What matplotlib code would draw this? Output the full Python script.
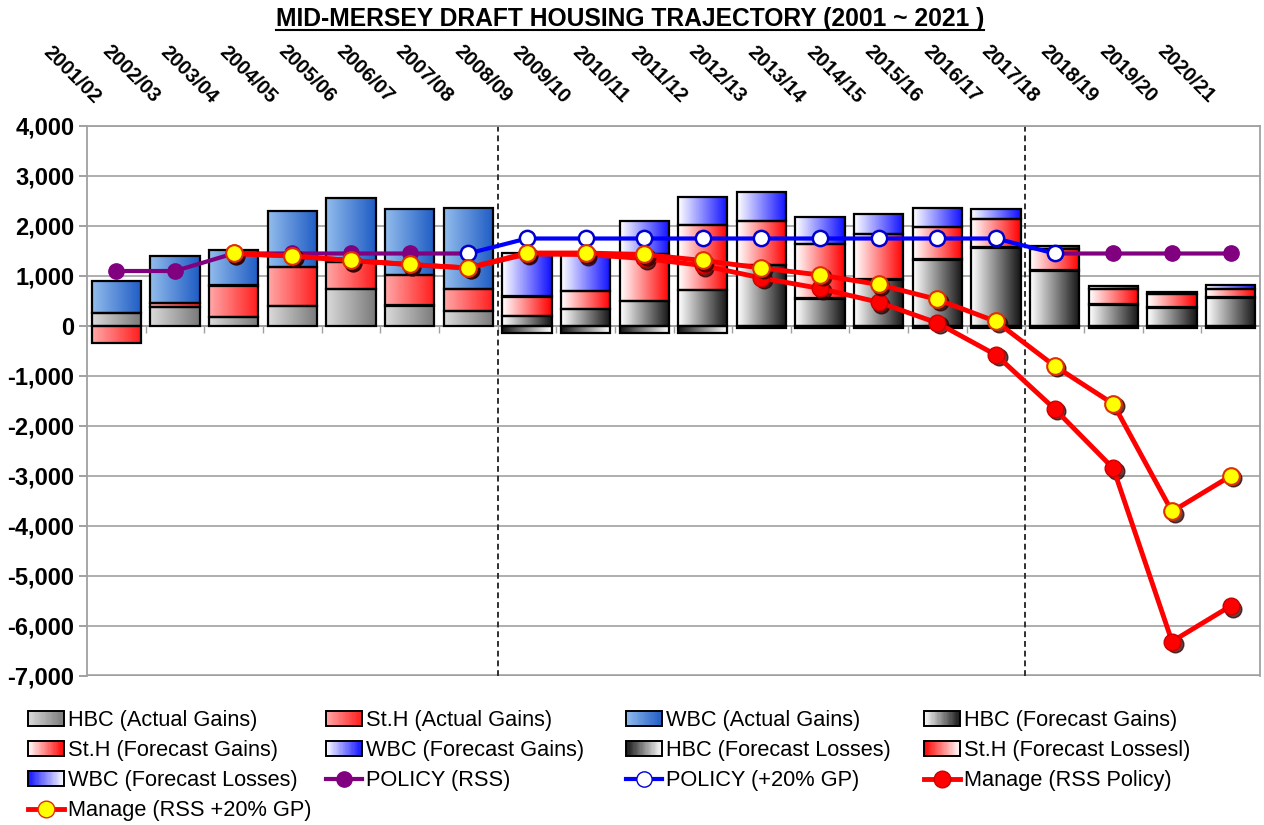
import numpy as np
import matplotlib
matplotlib.use('Agg')
import matplotlib.pyplot as plt
from matplotlib.colors import LinearSegmentedColormap, to_rgb
from matplotlib.patches import Rectangle
from matplotlib.lines import Line2D
from matplotlib.legend_handler import HandlerBase
from matplotlib.transforms import ScaledTranslation, blended_transform_factory

plt.rcParams['font.family'] = ['Liberation Sans', 'DejaVu Sans']

nan = np.nan
years = ['2001/02', '2002/03', '2003/04', '2004/05', '2005/06', '2006/07', '2007/08',
         '2008/09', '2009/10', '2010/11', '2011/12', '2012/13', '2013/14', '2014/15',
         '2015/16', '2016/17', '2017/18', '2018/19', '2019/20', '2020/21']

hbc_actual = [250, 380, 170, 400, 740, 410, 300] + [0] * 13
sth_actual = [-350, 80, 640, 790, 550, 610, 440] + [0] * 13
wbc_actual = [650, 950, 710, 1110, 1280, 1330, 1620] + [0] * 13
hbc_fc_gain = [0] * 7 + [190, 340, 500, 720, 1220, 550, 930, 1330, 1570, 1110, 430, 370, 570]
sth_fc_gain = [0] * 7 + [400, 360, 950, 1310, 890, 1090, 920, 650, 570, 440, 320, 270, 180]
wbc_fc_gain = [0] * 7 + [870, 720, 650, 550, 580, 550, 390, 390, 210, 50, 50, 50, 70]
hbc_fc_loss = [0] * 7 + [-150, -150, -150, -150, -50, -50, -50, -50, -50, -50, -50, -50, -50]
sth_fc_loss = [0] * 20
wbc_fc_loss = [0] * 20

policy_rss = [1100, 1100, 1450, 1450, 1450, 1450, 1450] + [nan] * 9 + [1450, 1450, 1450, 1450]
policy_gp = [nan] * 6 + [1450] + [1750] * 9 + [1450] + [nan] * 3
manage_rss = [nan, nan, 1450, 1400, 1310, 1230, 1160, 1440, 1430, 1350, 1210, 960, 750, 475,
              60, -580, -1660, -2850, -6310, -5600]
manage_gp = [nan, nan, 1450, 1400, 1310, 1230, 1160, 1460, 1460, 1430, 1310, 1160, 1020, 830,
             530, 90, -800, -1560, -3710, -3000]

series = [
    ('HBC (Actual Gains)', hbc_actual, '#dadada', '#7a7a7a'),
    ('St.H (Actual Gains)', sth_actual, '#ffa8a8', '#ff1c1c'),
    ('WBC (Actual Gains)', wbc_actual, '#92bcec', '#1f5cc4'),
    ('HBC (Forecast Gains)', hbc_fc_gain, '#ffffff', '#151515'),
    ('St.H (Forecast Gains)', sth_fc_gain, '#ffffff', '#ff0000'),
    ('WBC (Forecast Gains)', wbc_fc_gain, '#ffffff', '#1010ff'),
    ('HBC (Forecast Losses)', hbc_fc_loss, '#151515', '#ffffff'),
    ('St.H (Forecast Lossesl)', sth_fc_loss, '#ff0000', '#ffffff'),
    ('WBC (Forecast Losses)', wbc_fc_loss, '#1010ff', '#ffffff'),
]
# stacking order (bottom to top)
stack_order = [0, 3, 1, 4, 2, 5, 6, 7, 8]

W, H = 1264, 825
fig = plt.figure(figsize=(W / 100, H / 100), dpi=100)
ax = fig.add_axes([87 / W, 1 - 676 / H, (1260 - 87) / W, (676 - 126) / H])

x = np.arange(len(years))
bw = 0.84
pos_base = np.zeros(len(years))
neg_base = np.zeros(len(years))
grad = np.linspace(0, 1, 64).reshape(1, -1)

for si in stack_order:
    label, vals, c0, c1 = series[si]
    v = np.array(vals, dtype=float)
    bottoms = np.where(v >= 0, pos_base, neg_base)
    mask = v != 0
    if mask.any():
        bars = ax.bar(x[mask], v[mask], bw, bottom=bottoms[mask], facecolor='none',
                      edgecolor='black', linewidth=1.6, zorder=3)
        cmap = LinearSegmentedColormap.from_list(label, [c0, c1])
        for p in bars.patches:
            x0, y0 = p.get_x(), p.get_y()
            x1, y1 = x0 + p.get_width(), y0 + p.get_height()
            ax.imshow(grad, cmap=cmap, extent=[x0, x1, min(y0, y1), max(y0, y1)],
                      aspect='auto', interpolation='bilinear', zorder=2.9)
    pos_base = pos_base + np.where(v > 0, v, 0)
    neg_base = neg_base + np.where(v < 0, v, 0)

# vertical dashed separators
for b in (6.5, 15.5):
    ax.axvline(b, color='#303030', lw=1.4, ls=(0, (3, 2)), zorder=2.5)

# lines
ax.plot(x, policy_rss, color='#800080', lw=3, marker='o', ms=11, mfc='#800080',
        mec='#800080', zorder=4)
ax.plot(x, policy_gp, color='#0000ff', lw=3, marker='o', ms=11, mfc='white',
        mec='#0000cc', mew=1.8, zorder=5)
shadow = ax.transData + ScaledTranslation(0.025, -0.025, fig.dpi_scale_trans)
ax.plot(x, manage_rss, ls='none', marker='o', ms=12, color='#300000', alpha=0.75,
        transform=shadow, zorder=5.5)
ax.plot(x, manage_rss, color='#ff0000', lw=3.5, marker='o', ms=12, mfc='#ff0000',
        mec='#cc0000', zorder=6)
ax.plot(x, manage_gp, ls='none', marker='o', ms=12, color='#300000', alpha=0.75,
        transform=shadow, zorder=6.5)
ax.plot(x, manage_gp, color='#ff0000', lw=3.5, marker='o', ms=12, mfc='#ffff00',
        mec='#e03000', mew=1.5, zorder=7)

ax.set_xlim(-0.5, len(years) - 0.5)
ax.set_ylim(-7000, 4000)
ax.set_yticks(np.arange(-7000, 4001, 1000))
ax.yaxis.set_major_formatter(matplotlib.ticker.FuncFormatter(lambda v, p: f'{int(v):,}'))
ax.tick_params(axis='y', labelsize=17, length=6, width=1.2, color='#909090', pad=3)
for t in ax.get_yticklabels():
    t.set_fontweight('bold')
ax.yaxis.grid(True, color='#a8a8a8', lw=1.3)
ax.set_axisbelow(True)
for s in ax.spines.values():
    s.set_color('#a0a0a0')
    s.set_linewidth(1.3)
ax.spines['bottom'].set_position(('data', 0))
ax.set_xticks(np.arange(0.5, len(years) - 1, 1))
ax.tick_params(axis='x', length=5, width=1, color='#a0a0a0', labelbottom=False)
ax.axhline(-7000, color='#a0a0a0', lw=2.6, zorder=1)

# category labels on top (rotated), anchored by their end near each category
lab_trans = blended_transform_factory(ax.transData, fig.transFigure)
for i, yl in enumerate(years):
    fig.text(i - 0.32, 1 - 100 / H, yl, transform=lab_trans, rotation=-45,
             rotation_mode='anchor', ha='right', va='center', fontsize=14.5,
             fontweight='bold')

# title with underline
title = fig.text(630 / W, 1 - 19 / H, 'MID-MERSEY DRAFT HOUSING TRAJECTORY (2001 ~ 2021 )',
                 ha='center', va='center', fontsize=17.7, fontweight='bold')
fig.canvas.draw()
bb = title.get_window_extent()
uy = (bb.y0 + 1) / H
fig.add_artist(Line2D([bb.x0 / W, bb.x1 / W], [uy, uy], color='black', lw=1.5))


class GradHandler(HandlerBase):
    def __init__(self, c0, c1):
        super().__init__()
        self.c0, self.c1 = np.array(to_rgb(c0)), np.array(to_rgb(c1))

    def create_artists(self, legend, orig_handle, xdescent, ydescent, width, height,
                       fontsize, trans):
        n = 30
        arts = []
        for k in range(n):
            f = (k + 0.5) / n
            col = self.c0 * (1 - f) + self.c1 * f
            arts.append(Rectangle((-xdescent + width * k / n, -ydescent), width / n + 0.3,
                                  height, facecolor=col, edgecolor='none', transform=trans))
        arts.append(Rectangle((-xdescent, -ydescent), width, height, fill=False,
                              edgecolor='black', lw=1.4, transform=trans))
        return arts


handles, labels, hmap = [], [], {}
for label, vals, c0, c1 in series:
    h = Rectangle((0, 0), 1, 1)
    hmap[h] = GradHandler(c0, c1)
    handles.append(h)
    labels.append(label)
line_handles = [
    (Line2D([], [], color='#800080', lw=3, marker='o', ms=11, mfc='#800080', mec='#800080'),
     'POLICY (RSS)'),
    (Line2D([], [], color='#0000ff', lw=3, marker='o', ms=11, mfc='white', mec='#0000cc'),
     'POLICY (+20% GP)'),
    (Line2D([], [], color='#ff0000', lw=3.5, marker='o', ms=12, mfc='#ff0000', mec='#cc0000'),
     'Manage (RSS Policy)'),
    (Line2D([], [], color='#ff0000', lw=3.5, marker='o', ms=12, mfc='#ffff00', mec='#e03000'),
     'Manage (RSS +20% GP)'),
]
for h, l in line_handles:
    handles.append(h)
    labels.append(l)

# row-wise order in 4 columns
cols = [[], [], [], []]
for k in range(len(handles)):
    cols[k % 4].append(k)
col_x = [28, 326, 626, 924]
for c, idxs in enumerate(cols):
    fig.legend([handles[k] for k in idxs], [labels[k] for k in idxs], handler_map=hmap,
               loc='upper left', bbox_to_anchor=(col_x[c] / W, 1 - 710 / H), frameon=False,
               fontsize=15.7, borderpad=0, borderaxespad=0, handlelength=1.65,
               handleheight=0.68, handletextpad=0.2, labelspacing=0.42, numpoints=1)

fig.savefig('out.png', dpi=100)
